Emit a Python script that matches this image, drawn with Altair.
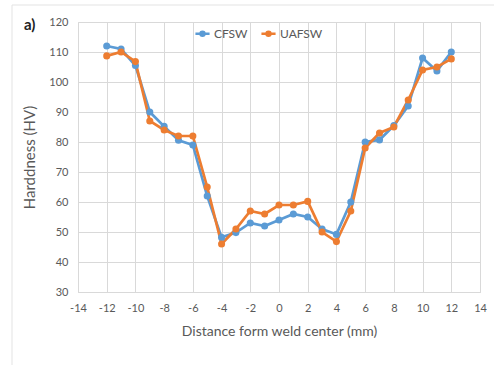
import altair as alt
import pandas as pd

distance = list(range(-12, 13))
cfsw = [112, 111, 105.5, 90, 85.2, 80.6, 79, 62, 48.2, 49.8, 53, 52, 54,
        56, 55, 51, 49.2, 60, 80, 80.7, 85.5, 92, 108, 103.7, 110]
uafsw = [108.7, 110, 106.8, 87, 84, 82, 82, 65, 46, 51, 57, 56, 59,
         59, 60.2, 50, 46.8, 57, 78, 83, 85, 94, 104, 105, 107.7]
series = ["CFSW", "UAFSW"]
colors = ["#5B9BD5", "#ED7D31"]
x_ticks = list(range(-14, 15, 2))
y_ticks = list(range(30, 121, 10))

rows = []
for d, v in zip(distance, cfsw):
    rows.append({"x": d, "hv": v, "s": "CFSW", "o": 0})
for d, v in zip(distance, uafsw):
    rows.append({"x": d, "hv": v, "s": "UAFSW", "o": 1})
df = pd.DataFrame(rows)

FONT = "Lato"
GREY = "#595959"

color = alt.Color(
    "s:N",
    scale=alt.Scale(domain=series, range=colors),
    legend=alt.Legend(
        title=None, orient="none", legendX=116, legendY=3, direction="horizontal",
        symbolType="M-1,0L1,0M-0.28,0a0.28,0.28 0 1,0 0.56,0a0.28,0.28 0 1,0 -0.56,0",
        symbolSize=200, symbolStrokeWidth=2.5, labelFont=FONT, labelFontSize=12,
        labelColor=GREY, columnPadding=8, labelOffset=3,
    ),
)

xenc = alt.X(
    "x:Q",
    scale=alt.Scale(domain=[-14, 14], nice=False),
    axis=alt.Axis(values=x_ticks, tickCount=len(x_ticks), title="Distance form weld center (mm)",
                  labelExpr="'' + datum.value",
                  labelFont=FONT, labelFontSize=11, labelColor=GREY, labelPadding=10,
                  labelOverlap=False, labelFlush=False,
                  titleFont=FONT, titleFontSize=14, titleColor=GREY, titleFontWeight="normal",
                  titlePadding=11, ticks=False, domainColor="#d9d9d9", gridColor="#d9d9d9"),
)
yenc = alt.Y(
    "hv:Q",
    scale=alt.Scale(domain=[30, 120], nice=False),
    axis=alt.Axis(values=y_ticks, tickCount=len(y_ticks), title="Harddness (HV)",
                  labelFont=FONT, labelFontSize=11, labelColor=GREY, labelPadding=10,
                  labelOverlap=False, labelFlush=False,
                  titleFont=FONT, titleFontSize=15, titleColor=GREY, titleFontWeight="normal",
                  titlePadding=11, ticks=False, domain=False, gridColor="#d9d9d9"),
)

base = alt.Chart(df).encode(x=xenc, y=yenc, color=color)
line = base.mark_line(strokeWidth=2.7).encode(order="o:Q")
pts = base.mark_point(filled=True, size=50, opacity=1)

one = pd.DataFrame({"k": [0]})
frame_top = alt.Chart(one).mark_rule(color="#e3e3e3", strokeWidth=1).encode(
    x=alt.value(-66), x2=alt.value(416), y=alt.value(-17))
frame_left = alt.Chart(one).mark_rule(color="#e3e3e3", strokeWidth=1).encode(
    x=alt.value(-66), y=alt.value(-17), y2=alt.value(343))
label_a = alt.Chart(one).mark_text(text="a)", font=FONT, fontSize=15, fontWeight="bold",
                                   color="#222222", align="left", baseline="middle").encode(
    x=alt.value(-54), y=alt.value(3))

chart = alt.layer(line, pts, frame_top, frame_left, label_a).properties(
    width=402, height=270,
    autosize=alt.AutoSizeParams(type="none"),
    padding={"left": 78, "top": 22, "right": 14, "bottom": 73},
).configure_view(stroke=None).configure(background="white")

chart.save("out.html", embed_options={"renderer": "svg", "actions": False})
